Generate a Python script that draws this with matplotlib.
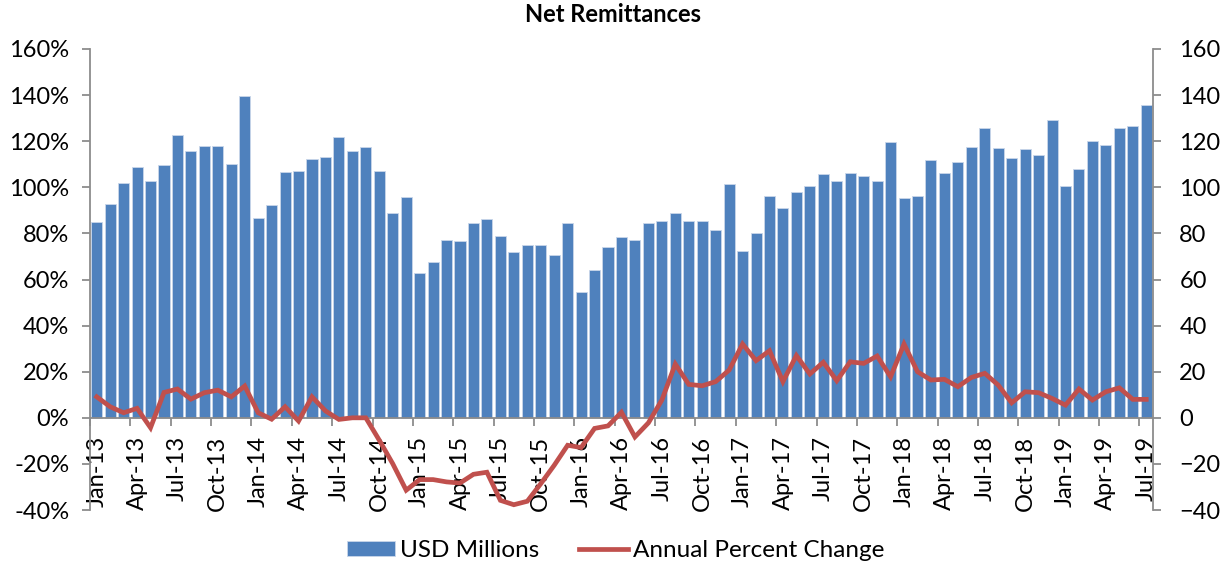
"""Net remittances: monthly USD millions (bars) with annual percent change (line)."""

import matplotlib

matplotlib.use("Agg")
import matplotlib.pyplot as plt
import numpy as np
from matplotlib.ticker import FuncFormatter

plt.rcParams["font.family"] = ["Lato", "DejaVu Sans"]

years = [13, 14, 15, 16, 17, 18, 19]
month_names = ["Jan", "Feb", "Mar", "Apr", "May", "Jun",
               "Jul", "Aug", "Sep", "Oct", "Nov", "Dec"]
months = [f"{m}-{y}" for y in years for m in month_names][:79]

usd_millions = [
    84.8, 92.9, 101.7, 108.8, 102.9, 109.6, 122.9, 115.8, 117.8, 117.8, 109.9, 139.6,
    86.5, 92.3, 106.7, 107.2, 112.3, 113.0, 122.0, 115.8, 117.4, 107.1, 88.8, 95.8,
    63.0, 67.5, 77.1, 76.7, 84.6, 86.2, 78.7, 72.0, 74.8, 74.9, 70.6, 84.3,
    54.6, 64.3, 74.3, 78.6, 77.2, 84.5, 85.2, 88.7, 85.4, 85.4, 81.4, 101.6,
    72.3, 80.3, 96.1, 91.0, 98.0, 100.6, 105.7, 102.8, 106.1, 104.9, 102.9, 119.6,
    95.2, 96.1, 111.7, 106.2, 111.0, 117.5, 125.8, 117.1, 112.5, 116.5, 113.8, 129.4,
    100.4, 108.0, 120.1, 118.3, 125.7, 126.5, 135.7,
]

annual_pct_change = [
    9.1, 4.8, 2.2, 4.1, -4.3, 11.0, 12.5, 8.1, 10.9, 12.0, 9.1, 13.8,
    2.2, -0.6, 4.8, -1.4, 9.1, 3.0, -0.7, 0.0, 0.0, -9.7, -19.9, -31.4,
    -26.8, -26.8, -27.8, -28.3, -24.5, -23.6, -35.8, -37.7, -36.2, -28.6, -20.6, -11.9,
    -12.9, -4.6, -3.5, 2.4, -8.3, -2.2, 7.7, 23.3, 14.5, 13.9, 15.7, 20.7,
    32.0, 24.8, 29.1, 15.7, 27.0, 19.0, 24.1, 16.1, 24.3, 23.6, 26.8, 17.8,
    32.0, 20.0, 16.4, 16.7, 13.5, 17.5, 19.3, 14.2, 6.5, 11.3, 10.9, 8.4,
    5.5, 12.5, 7.7, 11.3, 13.0, 8.0, 8.0,
]

BAR_COLOR = "#4F81BD"
LINE_COLOR = "#C0504D"
AXIS_GREY = "#8C8C8C"
TICK_SIZE = 17

x = np.arange(len(months))

fig = plt.figure(figsize=(12.31, 5.63), dpi=100)
ax = fig.add_axes([0.0731, 0.0941, 0.8635, 0.8189])
ax2 = ax.twinx()

# bars belong to the right (USD) axis, line to the left (percent) axis;
# keep the percent axes on top so the line is drawn over the bars
ax2.bar(x, usd_millions, width=0.82, color=BAR_COLOR, edgecolor="#C9D6EA",
        linewidth=0.6, label="USD Millions", zorder=2)
ax.plot(x, annual_pct_change, color=LINE_COLOR, linewidth=3.4,
        solid_joinstyle="miter", label="Annual Percent Change", zorder=3)
ax.set_zorder(ax2.get_zorder() + 1)
ax.patch.set_visible(False)

for a in (ax, ax2):
    a.set_ylim(-40, 160)
    a.set_yticks(np.arange(-40, 161, 20))
    a.set_xlim(-0.5, len(months) - 0.5)
    a.spines["top"].set_visible(False)

ax.yaxis.set_major_formatter(FuncFormatter(lambda v, _: f"{v:.0f}%"))

ax.spines["bottom"].set_position(("data", 0))
ax.spines["bottom"].set_color(AXIS_GREY)
ax.spines["left"].set_color(AXIS_GREY)
ax.spines["right"].set_visible(False)
ax2.spines["bottom"].set_visible(False)
ax2.spines["left"].set_visible(False)
ax2.spines["right"].set_color(AXIS_GREY)
for a in (ax, ax2):
    for s in a.spines.values():
        s.set_linewidth(1.3)

# tick marks on category boundaries, labels on every third month
ax.set_xticks(np.arange(-0.5, len(months), 3))
ax.set_xticklabels([])
ax.set_xticks(x[::3], minor=True)
ax.set_xticklabels(months[::3], minor=True, rotation=90, fontsize=TICK_SIZE)
ax.tick_params(axis="x", which="major", direction="out", length=6,
               color=AXIS_GREY, width=1.3)
ax.tick_params(axis="x", which="minor", length=0, pad=13)
ax2.tick_params(axis="x", which="both", bottom=False, labelbottom=False)

ax.tick_params(axis="y", direction="out", length=6, color=AXIS_GREY,
               width=1.3, labelsize=TICK_SIZE, pad=9)
ax2.tick_params(axis="y", direction="out", length=6, color=AXIS_GREY,
                width=1.3, labelsize=TICK_SIZE, pad=13)

fig.suptitle("Net Remittances", x=0.498, y=0.995, fontsize=17,
             fontweight="bold")

h1, l1 = ax2.get_legend_handles_labels()
h2, l2 = ax.get_legend_handles_labels()
fig.legend(h1 + h2, l1 + l2, loc="lower center", ncol=2, frameon=False,
           bbox_to_anchor=(0.5, -0.035), fontsize=17.5, handlelength=2.0,
           handleheight=0.6, handletextpad=0.2, columnspacing=1.65)

fig.savefig("out.png", dpi=100)
